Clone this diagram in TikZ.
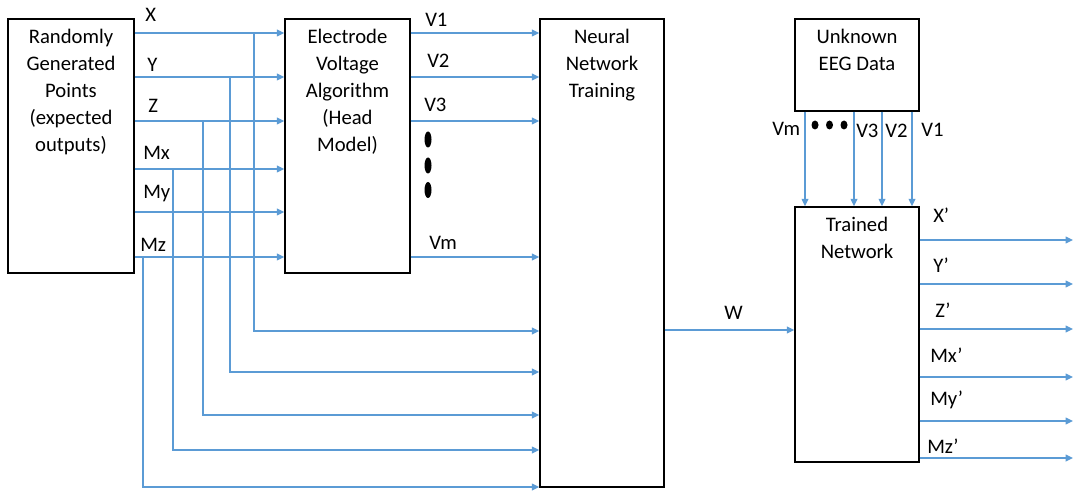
\documentclass[tikz,border=0pt]{standalone}
\usepackage{fontspec}
\setmainfont{Carlito}
\usetikzlibrary{positioning, arrows.meta}
\definecolor{lineblue}{RGB}{91,155,213}
\tikzset{
    block/.style={draw, line width=1.1pt, inner sep=0pt},
    boxtext/.style={align=center, inner sep=0pt, font=\fontsize{15.5}{20.25}\selectfont},
    sig/.style={anchor=base west, inner sep=0pt, font=\fontsize{15.5}{18}\selectfont},
    flow/.style={draw=lineblue, line width=1pt, -{Triangle[width=5pt,length=5.5pt]}},
}

\begin{document}
\begin{tikzpicture}[x=0.75pt, y=-0.75pt]
\useasboundingbox (0,0) rectangle (1080,491);

% Bloecke
\node[block, minimum width=94.5pt, minimum height=190.5pt] (A) at (71,146) {};
\node[block, minimum width=93.75pt, minimum height=190.5pt] (B) at (347.5,146) {};
\node[block, minimum width=93pt, minimum height=351pt] (C) at (602,253) {};
\node[block, minimum width=93pt, minimum height=69pt] (D) at (857,65) {};
\node[block, minimum width=93pt, minimum height=191.25pt] (E) at (857,334.5) {};

% Beschriftung der Bloecke
\node[boxtext, below=8.25pt of A.north] (Atext) {Randomly\\Generated\\Points\\(expected\\outputs)};
\node[boxtext, below=8.25pt of B.north] (Btext) {Electrode\\Voltage\\Algorithm\\(Head\\Model)};
\node[boxtext, below=8.25pt of C.north] (Ctext) {Neural\\Network\\Training};
\node[boxtext, below=8.25pt of D.north] (Dtext) {Unknown\\EEG Data};
\node[boxtext, below=8.25pt of E.north] (Etext) {Trained\\Network};

% Eingaenge A -> B
\coordinate (inX) at (A.east |- 0,33);
\coordinate (inY) at (A.east |- 0,77);
\coordinate (inZ) at (A.east |- 0,121);
\coordinate (inMx) at (A.east |- 0,169);
\coordinate (inMy) at (A.east |- 0,212);
\coordinate (inMz) at (A.east |- 0,257);
\draw[flow] (inX) -- (B.west |- inX);
\draw[flow] (inY) -- (B.west |- inY);
\draw[flow] (inZ) -- (B.west |- inZ);
\draw[flow] (inMx) -- (B.west |- inMx);
\draw[flow] (inMy) -- (B.west |- inMy);
\draw[flow] (inMz) -- (B.west |- inMz);

\node[sig] (lX) at (145,22) {X};
\node[sig] (lY) at (147,72) {Y};
\node[sig] (lZ) at (148,113) {Z};
\node[sig] (lMx) at (143,160) {Mx};
\node[sig] (lMy) at (143,199) {My};
\node[sig] (lMz) at (140,252) {Mz};

% Abzweigungen A -> C
\coordinate (brX) at (254,33);
\coordinate (brY) at (230,77);
\coordinate (brZ) at (203,121);
\coordinate (brMx) at (173,169);
\coordinate (brMz) at (143,257);
\draw[flow] (brX) |- (C.west |- 0,331);
\draw[flow] (brY) |- (C.west |- 0,372);
\draw[flow] (brZ) |- (C.west |- 0,415);
\draw[flow] (brMx) |- (C.west |- 0,450);
\draw[flow] (brMz) |- (C.west |- 0,487);

% Spannungen B -> C
\draw[flow] (B.east |- inX) -- (C.west |- inX);
\draw[flow] (B.east |- inY) -- (C.west |- inY);
\draw[flow] (B.east |- inZ) -- (C.west |- inZ);
\draw[flow] (B.east |- inMz) -- (C.west |- inMz);

\node[sig] (lV1) at (425,27) {V1};
\node[sig] (lV2) at (427,68) {V2};
\node[sig] (lV3) at (424,112) {V3};
\node[sig] (lVm) at (429,250) {Vm};

\fill (428,139.5) ellipse [x radius=3.5, y radius=8];
\fill (428,165.5) ellipse [x radius=3.5, y radius=8];
\fill (428,190) ellipse [x radius=3.5, y radius=8];

% Gewichte C -> E
\draw[flow] (C.east |- 0,330) -- (E.west |- 0,330);
\node[sig] (lW) at (724,320) {W};

% Unbekannte Daten D -> E
\draw[flow] (D.south -| 805,0) -- (E.north -| 805,0);
\draw[flow] (D.south -| 854,0) -- (E.north -| 854,0);
\draw[flow] (D.south -| 882,0) -- (E.north -| 882,0);
\draw[flow] (D.south -| 912,0) -- (E.north -| 912,0);

\node[sig] (dVm) at (772,136) {Vm};
\node[sig] (dV3) at (856,138) {V3};
\node[sig] (dV2) at (885,138) {V2};
\node[sig] (dV1) at (921,137) {V1};

\fill (815,125) ellipse [x radius=3.5, y radius=4.5];
\fill (829.5,125) ellipse [x radius=3.5, y radius=4.5];
\fill (844,125) ellipse [x radius=3.5, y radius=4.5];

% Ausgaenge E
\coordinate (oX) at (1073,240);
\coordinate (oY) at (1073,284);
\coordinate (oZ) at (1073,329);
\coordinate (oMx) at (1073,377);
\coordinate (oMy) at (1073,421);
\coordinate (oMz) at (1073,458);
\draw[flow] (E.east |- oX) -- (oX);
\draw[flow] (E.east |- oY) -- (oY);
\draw[flow] (E.east |- oZ) -- (oZ);
\draw[flow] (E.east |- oMx) -- (oMx);
\draw[flow] (E.east |- oMy) -- (oMy);
\draw[flow] (E.east |- oMz) -- (oMz);

\node[sig] (lXo) at (933,223) {X’};
\node[sig] (lYo) at (933,273) {Y’};
\node[sig] (lZo) at (935,317) {Z’};
\node[sig] (lMxo) at (930,362) {Mx’};
\node[sig] (lMyo) at (930,405) {My’};
\node[sig] (lMzo) at (927,453) {Mz’};

\end{tikzpicture}
\end{document}
